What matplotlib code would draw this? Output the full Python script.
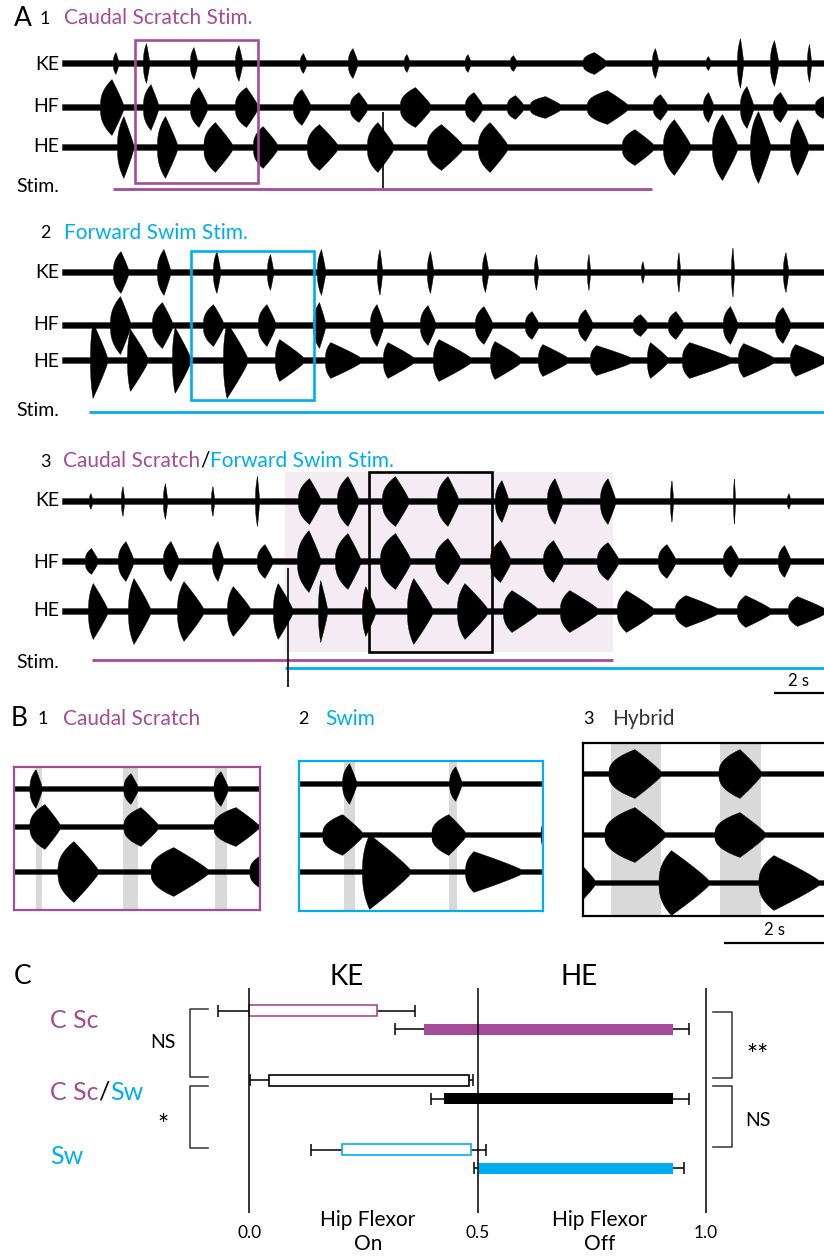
import numpy as np
import matplotlib
matplotlib.use("Agg")
import matplotlib.pyplot as plt
from matplotlib.patches import Rectangle

plt.rcParams['font.family'] = ['Lato', 'DejaVu Sans']

# ======================= DATA =======================
# Panel A recordings, bursts as (onset s, offset s, half-amplitude)
A1_KE = [(2.04, 2.24, 8), (3.24, 3.48, 17), (5.12, 5.40, 13), (6.92, 7.20, 15), (9.52, 9.76, 7),
         (11.44, 11.80, 12), (13.68, 13.88, 6), (16.12, 16.32, 6), (17.92, 18.16, 5), (20.84, 21.72, 8),
         (23.60, 23.84, 12), (25.76, 25.92, 4), (27.00, 27.24, 22), (28.32, 28.64, 20), (29.80, 29.96, 16)]
A1_HF = [(1.52, 2.44, 25), (3.24, 3.84, 20), (5.12, 5.80, 17), (6.92, 7.80, 17), (9.24, 9.92, 15),
         (11.52, 12.20, 12), (13.52, 14.72, 17), (16.12, 16.80, 12), (17.80, 18.44, 9), (18.72, 19.92, 8),
         (21.00, 22.60, 14), (23.64, 24.20, 10), (25.64, 26.04, 12), (27.12, 27.64, 18), (28.44, 29.00, 12),
         (30.12, 30.72, 8)]
A1_HE = [(2.20, 2.84, 28), (3.80, 4.60, 28), (5.66, 6.80, 22), (7.64, 8.60, 18), (9.80, 11.00, 20),
         (12.20, 13.24, 22), (14.60, 16.00, 20), (16.64, 17.80, 22), (22.40, 23.64, 15), (24.04, 25.12, 25),
         (26.00, 27.00, 30), (27.52, 28.32, 33), (29.12, 29.84, 25)]
A1_artifact = 12.84

A2_KE = [(2.04, 2.64, 18), (3.80, 4.32, 20), (6.04, 6.32, 18), (8.20, 8.44, 15), (10.20, 10.52, 20),
         (12.60, 12.80, 20), (14.60, 14.84, 18), (16.80, 17.04, 17), (18.88, 19.04, 15), (21.00, 21.12, 15),
         (23.16, 23.28, 8), (24.60, 24.72, 17), (26.76, 26.88, 22), (28.84, 29.04, 17)]
A2_HF = [(1.92, 2.72, 26), (3.60, 4.40, 20), (5.64, 6.44, 18), (7.84, 8.52, 18), (10.04, 10.52, 20),
         (12.32, 12.84, 18), (14.32, 14.92, 17), (16.52, 17.20, 16), (18.52, 19.04, 11), (20.64, 21.20, 13),
         (22.84, 23.40, 8), (24.24, 24.84, 11), (26.44, 27.00, 16), (28.52, 29.12, 15)]
A2_HE = [(1.12, 1.80, 35), (2.60, 3.40, 28), (4.40, 5.12, 30), (6.44, 7.40, 35), (8.52, 9.64, 18),
         (10.52, 11.92, 15), (12.84, 14.04, 15), (14.84, 16.32, 18), (17.12, 18.32, 16), (19.04, 20.20, 13),
         (21.12, 22.72, 12), (23.40, 24.20, 15), (24.80, 26.72, 15), (27.04, 28.44, 14), (29.12, 30.48, 13)]

A3_KE = [(1.08, 1.20, 5), (2.36, 2.48, 12), (4.04, 4.20, 15), (5.96, 6.08, 12), (7.72, 7.88, 22),
         (9.44, 10.32, 20), (11.00, 11.84, 22), (12.80, 13.84, 22), (15.00, 15.84, 22), (17.32, 17.84, 18),
         (19.40, 20.00, 20), (21.52, 22.12, 20), (24.32, 24.44, 18), (26.84, 26.92, 20), (29.00, 29.12, 5)]
A3_HF = [(0.92, 1.40, 10), (2.24, 2.84, 17), (4.04, 4.64, 17), (6.00, 6.44, 17), (7.80, 8.40, 14),
         (9.40, 10.32, 28), (10.92, 11.92, 25), (12.72, 13.92, 25), (14.92, 15.92, 20), (17.12, 17.92, 18),
         (19.24, 20.04, 18), (21.40, 22.24, 16), (23.84, 24.52, 14), (26.44, 27.04, 13), (28.64, 29.12, 13)]
A3_HE = [(1.04, 1.80, 25), (2.64, 3.52, 30), (4.60, 5.64, 27), (6.60, 7.52, 22), (8.44, 9.20, 25),
         (10.24, 10.60, 28), (12.00, 12.52, 22), (13.80, 14.80, 30), (15.80, 17.00, 25), (17.64, 19.00, 18),
         (19.92, 21.40, 18), (22.20, 23.64, 18), (24.52, 26.20, 13), (27.00, 28.32, 13), (29.04, 30.48, 12)]
A3_artifact = 9.04

RECORD_LEN = 30.48  # s
A1_stim = (2.04, 23.60)
A2_stim = (1.08, 30.48)
A3_stim_scratch = (1.20, 22.04)
A3_stim_swim = (8.92, 30.48)
A3_hybrid = (8.92, 22.04)
A1_window = (2.92, 7.84)
A2_window = (5.16, 10.08)
A3_window = (12.28, 17.20)

# Panel B shaded bands (s, same time base as panel A)
B1_bands = [(3.36, 3.48), (5.10, 5.40), (6.94, 7.18)]
B2_bands = [(6.06, 6.28), (8.18, 8.34)]
B3_bands = [(12.84, 13.84), (15.02, 15.84)]
SCALE_S = 2

# Panel C: phase of activity (onset/offset mean, SD)
groups = ["C Sc", "C Sc/Sw", "Sw"]
KE_on = [0.000, 0.043, 0.203]
KE_on_sd = [0.069, 0.042, 0.068]
KE_off = [0.280, 0.481, 0.486]
KE_off_sd = [0.083, 0.009, 0.033]
HE_on = [0.383, 0.427, 0.501]
HE_on_sd = [0.064, 0.029, 0.009]
HE_off = [0.929, 0.929, 0.929]
HE_off_sd = [0.035, 0.035, 0.024]
phase_ticks = [0.0, 0.5, 1.0]

# ======================= STYLE / LAYOUT =======================
W, H = 824, 1257
PURPLE = "#a54c99"
BLUE = "#00aeef"
PINK = "#f5ecf3"
GRAY = "#d9d9d9"
group_colors = [PURPLE, "black", BLUE]

fig = plt.figure(figsize=(W / 100, H / 100), dpi=100)


def px_axes(x0, y0, x1, y1):
    ax = fig.add_axes([x0 / W, 1 - y1 / H, (x1 - x0) / W, (y1 - y0) / H])
    return ax


def ptext(x, y, s, size, color="black", ha="left", **kw):
    return fig.text(x / W, 1 - y / H, s, fontsize=size, color=color, ha=ha, va="center", **kw)


def seq_text(x, y, parts, size):
    r = fig.canvas.get_renderer()
    for s, c in parts:
        tx = ptext(x, y, s, size, c)
        x += tx.get_window_extent(r).width


t = np.linspace(0, RECORD_LEN, 6000)


def envelope(bursts, peak):
    env = np.zeros_like(t)
    for on, off, amp in bursts:
        u = (t - on) / (off - on)
        inside = (u > 0) & (u < 1)
        uc = np.clip(u, 0, 1)
        shape = np.where(uc < peak, (uc / peak) ** 0.45, ((1 - uc) / (1 - peak)) ** 0.9)
        env = np.where(inside, np.maximum(env, amp * shape), env)
    return env


def draw_trace(ax, bursts, y0, peak, base=2.9):
    env = envelope(bursts, peak) + base
    ax.fill_between(t, y0 - env, y0 + env, facecolor="black", edgecolor="black", lw=0.3, zorder=2)


LBL = 14
TTL = 15
# ---------------- Panel A1 ----------------
ax = px_axes(62, 30, 824, 200)
ax.set_xlim(0, RECORD_LEN); ax.set_ylim(200, 30); ax.axis("off")
draw_trace(ax, A1_KE, 63, 0.5)
draw_trace(ax, A1_HF, 107, 0.5)
draw_trace(ax, A1_HE, 147, 0.4)
ax.vlines(A1_artifact, 112, 188, color="black", lw=1.2, zorder=3)
ax.add_patch(Rectangle((A1_window[0], 40), A1_window[1] - A1_window[0], 143,
                       fill=False, ec=PURPLE, lw=1.9, zorder=4))
ax.hlines(189, *A1_stim, color=PURPLE, lw=2)
ptext(14, 18, "A", 19)
ptext(40, 19, "1", 13)
ptext(64, 18, "Caudal Scratch Stim.", TTL, PURPLE)
for lab, y in [("KE", 64), ("HF", 106), ("HE", 147), ("Stim.", 186)]:
    ptext(59, y, lab, LBL, ha="right")

# ---------------- Panel A2 ----------------
ax = px_axes(62, 245, 824, 420)
ax.set_xlim(0, RECORD_LEN); ax.set_ylim(420, 245); ax.axis("off")
draw_trace(ax, A2_KE, 272, 0.5)
draw_trace(ax, A2_HF, 325, 0.5)
draw_trace(ax, A2_HE, 360, 0.15)
ax.add_patch(Rectangle((A2_window[0], 251), A2_window[1] - A2_window[0], 149,
                       fill=False, ec=BLUE, lw=1.9, zorder=4))
ax.hlines(412, *A2_stim, color=BLUE, lw=2)
ptext(40, 233, "2", 13)
ptext(64, 233, "Forward Swim Stim.", TTL, BLUE)
for lab, y in [("KE", 272), ("HF", 325), ("HE", 361), ("Stim.", 410)]:
    ptext(59, y, lab, LBL, ha="right")

# ---------------- Panel A3 ----------------
ax = px_axes(62, 468, 824, 700)
ax.set_xlim(0, RECORD_LEN); ax.set_ylim(700, 468); ax.axis("off")
ax.add_patch(Rectangle((A3_hybrid[0], 472), A3_hybrid[1] - A3_hybrid[0], 180,
                       fc=PINK, ec="none", zorder=0))
draw_trace(ax, A3_KE, 501, 0.5)
draw_trace(ax, A3_HF, 561, 0.5)
draw_trace(ax, A3_HE, 611, 0.25)
ax.vlines(A3_artifact, 568, 687, color="black", lw=1.2, zorder=3)
ax.add_patch(Rectangle((A3_window[0], 472), A3_window[1] - A3_window[0], 180,
                       fill=False, ec="black", lw=1.9, zorder=4))
ax.hlines(660, *A3_stim_scratch, color=PURPLE, lw=2)
ax.hlines(668, *A3_stim_swim, color=BLUE, lw=2)
ax.hlines(693, RECORD_LEN - SCALE_S, RECORD_LEN, color="black", lw=1.6, clip_on=False)
ax.text(RECORD_LEN - SCALE_S / 2, 681, f"{SCALE_S} s", fontsize=12, ha="center", va="center")
ptext(40, 462, "3", 13)
seq_text(63, 461, [("Caudal Scratch", PURPLE), ("/", "black"), ("Forward Swim Stim.", BLUE)], TTL)
for lab, y in [("KE", 501), ("HF", 562), ("HE", 611), ("Stim.", 663)]:
    ptext(59, y, lab, LBL, ha="right")

# ---------------- Panel B ----------------
b_specs = [
    ((14, 767, 260, 910), A1_window, (A1_KE, A1_HF, A1_HE), (789, 827, 872), (0.5, 0.5, 0.4), B1_bands, PURPLE),
    ((299, 761, 543, 911), A2_window, (A2_KE, A2_HF, A2_HE), (784, 835, 872), (0.5, 0.5, 0.15), B2_bands, BLUE),
    ((583, 743, 829, 916), A3_window, (A3_KE, A3_HF, A3_HE), (774, 835, 883), (0.5, 0.5, 0.25), B3_bands, "black"),
]
for box, win, traces, offs, peaks, bands, col in b_specs:
    ax = px_axes(*box)
    ax.set_xlim(*win); ax.set_ylim(box[3], box[1])
    ax.set_xticks([]); ax.set_yticks([])
    for sp in ax.spines.values():
        sp.set_color(col); sp.set_linewidth(1.6)
    for a, b in bands:
        ax.axvspan(a, b, color=GRAY, lw=0, zorder=0)
    for tr, y0, pk in zip(traces, offs, peaks):
        draw_trace(ax, tr, y0, pk, base=2.4)
b3 = ax
x_end = A3_window[0] + (824 - 583) / 50.0
b3.hlines(943, x_end - SCALE_S, x_end, color="black", lw=1.6, clip_on=False)
b3.text(x_end - SCALE_S / 2, 930, f"{SCALE_S} s", fontsize=12, ha="center", va="center")

ptext(11, 718, "B", 19)
ptext(38, 719, "1", 13)
ptext(63, 719, "Caudal Scratch", TTL, PURPLE)
ptext(298, 719, "2", 13)
ptext(325, 719, "Swim", TTL, BLUE)
ptext(583, 719, "3", 13)
ptext(612, 719, "Hybrid", TTL, "#333333")

# ---------------- Panel C ----------------
axc = px_axes(0, 950, 824, 1257)
axc.set_xlim((0 - 249.3) / 456.4, (824 - 249.3) / 456.4)
axc.set_ylim((1257 - 1020) / 69.5, (950 - 1020) / 69.5)
axc.axis("off")
rows = np.arange(len(groups))
dy = 0.132
bh = 0.158
cap = 0.085
for i, c in zip(rows, group_colors):
    yk, yh = i - dy, i + dy
    # KE (open) bar with whiskers
    axc.hlines(yk, KE_on[i] - KE_on_sd[i], KE_on[i], color="black", lw=1.1, zorder=1)
    axc.vlines(KE_on[i] - KE_on_sd[i], yk - cap, yk + cap, color="black", lw=1.1, zorder=1)
    axc.hlines(yk, KE_off[i], KE_off[i] + KE_off_sd[i], color="black", lw=1.1, zorder=1)
    axc.vlines(KE_off[i] + KE_off_sd[i], yk - cap, yk + cap, color="black", lw=1.1, zorder=1)
    axc.barh(yk, KE_off[i] - KE_on[i], left=KE_on[i], height=bh, facecolor="white",
             edgecolor=c, lw=1.2, zorder=2)
    # HE (filled) bar with whiskers
    axc.hlines(yh, HE_on[i] - HE_on_sd[i], HE_on[i], color="black", lw=1.1, zorder=1)
    axc.vlines(HE_on[i] - HE_on_sd[i], yh - cap, yh + cap, color="black", lw=1.1, zorder=1)
    axc.hlines(yh, HE_off[i], HE_off[i] + HE_off_sd[i], color="black", lw=1.1, zorder=1)
    axc.vlines(HE_off[i] + HE_off_sd[i], yh - cap, yh + cap, color="black", lw=1.1, zorder=1)
    axc.barh(yh, HE_off[i] - HE_on[i], left=HE_on[i], height=bh, color=c, lw=0, zorder=2)
axc.vlines(phase_ticks, -0.46, 2.78, color="black", lw=1.1, zorder=4)

bk = "#333333"
axc.plot([-0.091, -0.130, -0.130, -0.091], [-0.158, -0.158, 0.82, 0.82], color=bk, lw=1.1)
axc.plot([-0.091, -0.130, -0.130, -0.091], [0.95, 0.95, 1.84, 1.84], color=bk, lw=1.1)
axc.plot([1.016, 1.058, 1.058, 1.016], [-0.115, -0.115, 0.835, 0.835], color=bk, lw=1.1)
axc.plot([1.016, 1.058, 1.058, 1.016], [0.95, 0.95, 1.83, 1.83], color=bk, lw=1.1)

ptext(14, 977, "C", 19)
ptext(347, 977, "KE", 20, ha="center")
ptext(579, 977, "HE", 20, ha="center")
ptext(50, 1021, "C Sc", 18, PURPLE)
seq_text(50, 1092, [("C Sc", PURPLE), ("/", "black"), ("Sw", BLUE)], 18)
ptext(50, 1157, "Sw", 18, BLUE)
ptext(163, 1043, "NS", 14, ha="center")
ptext(163, 1126, "*", 19, ha="center")
ptext(746, 1056, "**", 19)
ptext(745, 1120, "NS", 14)
for v in phase_ticks:
    ptext(249.3 + v * 456.4, 1233, f"{v:.1f}", 12.5, ha="center")
fig.text(368 / W, 1 - 1232 / H, "Hip Flexor\nOn", fontsize=15, ha="center", va="center",
         linespacing=1.3)
fig.text(600 / W, 1 - 1232 / H, "Hip Flexor\nOff", fontsize=15, ha="center", va="center",
         linespacing=1.3)

fig.savefig("out.png", dpi=100)
